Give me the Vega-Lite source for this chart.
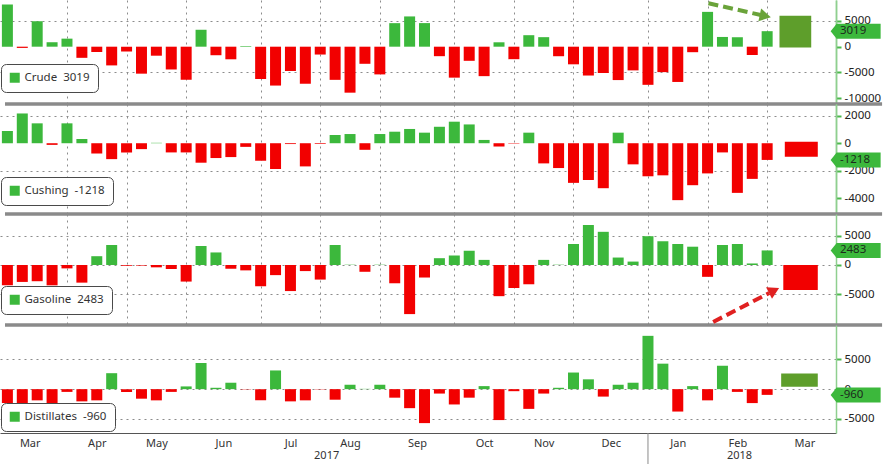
{
  "$schema": "https://vega.github.io/schema/vega-lite/v6.json",
  "background": "white",
  "padding": 0,
  "bounds": "flush",
  "spacing": 0,
  "datasets": {
    "crude": [
      {"d":"2017-03-10","s":"Crude","v":8209},{"d":"2017-03-17","s":"Crude","v":-237},{"d":"2017-03-24","s":"Crude","v":4954},{"d":"2017-03-31","s":"Crude","v":867},
      {"d":"2017-04-07","s":"Crude","v":1566},{"d":"2017-04-14","s":"Crude","v":-2166},{"d":"2017-04-21","s":"Crude","v":-1034},{"d":"2017-04-28","s":"Crude","v":-3641},
      {"d":"2017-05-05","s":"Crude","v":-930},{"d":"2017-05-12","s":"Crude","v":-5247},{"d":"2017-05-19","s":"Crude","v":-1753},{"d":"2017-05-26","s":"Crude","v":-4432},
      {"d":"2017-06-02","s":"Crude","v":-6433},{"d":"2017-06-09","s":"Crude","v":3295},{"d":"2017-06-16","s":"Crude","v":-1661},{"d":"2017-06-23","s":"Crude","v":-2451},
      {"d":"2017-06-30","s":"Crude","v":118},{"d":"2017-07-07","s":"Crude","v":-6299},{"d":"2017-07-14","s":"Crude","v":-7564},{"d":"2017-07-21","s":"Crude","v":-4727},
      {"d":"2017-07-28","s":"Crude","v":-7208},{"d":"2017-08-04","s":"Crude","v":-1527},{"d":"2017-08-11","s":"Crude","v":-6451},{"d":"2017-08-18","s":"Crude","v":-8945},
      {"d":"2017-08-25","s":"Crude","v":-3327},{"d":"2017-09-01","s":"Crude","v":-5392},{"d":"2017-09-08","s":"Crude","v":4580},{"d":"2017-09-15","s":"Crude","v":5888},
      {"d":"2017-09-22","s":"Crude","v":4591},{"d":"2017-09-29","s":"Crude","v":-1846},{"d":"2017-10-06","s":"Crude","v":-6023},{"d":"2017-10-13","s":"Crude","v":-2747},
      {"d":"2017-10-20","s":"Crude","v":-5731},{"d":"2017-10-27","s":"Crude","v":856},{"d":"2017-11-03","s":"Crude","v":-2430},{"d":"2017-11-10","s":"Crude","v":2237},
      {"d":"2017-11-17","s":"Crude","v":1854},{"d":"2017-11-24","s":"Crude","v":-1855},{"d":"2017-12-01","s":"Crude","v":-3429},{"d":"2017-12-08","s":"Crude","v":-5610},
      {"d":"2017-12-15","s":"Crude","v":-5117},{"d":"2017-12-22","s":"Crude","v":-6495},{"d":"2017-12-29","s":"Crude","v":-4609},{"d":"2018-01-05","s":"Crude","v":-7419},
      {"d":"2018-01-12","s":"Crude","v":-4948},{"d":"2018-01-19","s":"Crude","v":-6861},{"d":"2018-01-26","s":"Crude","v":-1071},{"d":"2018-02-02","s":"Crude","v":6776},
      {"d":"2018-02-09","s":"Crude","v":1895},{"d":"2018-02-16","s":"Crude","v":1840},{"d":"2018-02-23","s":"Crude","v":-1616},{"d":"2018-03-02","s":"Crude","v":3019}
    ],
    "cushing": [
      {"d":"2017-03-10","s":"Cushing","v":890},{"d":"2017-03-17","s":"Cushing","v":2170},{"d":"2017-03-24","s":"Cushing","v":1450},{"d":"2017-03-31","s":"Cushing","v":-120},
      {"d":"2017-04-07","s":"Cushing","v":1450},{"d":"2017-04-14","s":"Cushing","v":310},{"d":"2017-04-21","s":"Cushing","v":-750},{"d":"2017-04-28","s":"Cushing","v":-1160},
      {"d":"2017-05-05","s":"Cushing","v":-670},{"d":"2017-05-12","s":"Cushing","v":-430},{"d":"2017-05-19","s":"Cushing","v":30},{"d":"2017-05-26","s":"Cushing","v":-670},
      {"d":"2017-06-02","s":"Cushing","v":-670},{"d":"2017-06-09","s":"Cushing","v":-1420},{"d":"2017-06-16","s":"Cushing","v":-1080},{"d":"2017-06-23","s":"Cushing","v":-1010},
      {"d":"2017-06-30","s":"Cushing","v":-265},{"d":"2017-07-07","s":"Cushing","v":-1280},{"d":"2017-07-14","s":"Cushing","v":-1880},{"d":"2017-07-21","s":"Cushing","v":-60},
      {"d":"2017-07-28","s":"Cushing","v":-1690},{"d":"2017-08-04","s":"Cushing","v":-50},{"d":"2017-08-11","s":"Cushing","v":600},{"d":"2017-08-18","s":"Cushing","v":670},
      {"d":"2017-08-25","s":"Cushing","v":-480},{"d":"2017-09-01","s":"Cushing","v":670},{"d":"2017-09-08","s":"Cushing","v":840},{"d":"2017-09-15","s":"Cushing","v":1040},
      {"d":"2017-09-22","s":"Cushing","v":770},{"d":"2017-09-29","s":"Cushing","v":1200},{"d":"2017-10-06","s":"Cushing","v":1570},{"d":"2017-10-13","s":"Cushing","v":1370},
      {"d":"2017-10-20","s":"Cushing","v":240},{"d":"2017-10-27","s":"Cushing","v":-240},{"d":"2017-11-03","s":"Cushing","v":-30},{"d":"2017-11-10","s":"Cushing","v":770},
      {"d":"2017-11-17","s":"Cushing","v":-1470},{"d":"2017-11-24","s":"Cushing","v":-1810},{"d":"2017-12-01","s":"Cushing","v":-2890},{"d":"2017-12-08","s":"Cushing","v":-2680},
      {"d":"2017-12-15","s":"Cushing","v":-3280},{"d":"2017-12-22","s":"Cushing","v":770},{"d":"2017-12-29","s":"Cushing","v":-1540},{"d":"2018-01-05","s":"Cushing","v":-2410},
      {"d":"2018-01-12","s":"Cushing","v":-2340},{"d":"2018-01-19","s":"Cushing","v":-4150},{"d":"2018-01-26","s":"Cushing","v":-3060},{"d":"2018-02-02","s":"Cushing","v":-2200},
      {"d":"2018-02-09","s":"Cushing","v":-670},{"d":"2018-02-16","s":"Cushing","v":-3620},{"d":"2018-02-23","s":"Cushing","v":-2600},{"d":"2018-03-02","s":"Cushing","v":-1218}
    ],
    "gasoline": [
      {"d":"2017-03-10","s":"Gasoline","v":-3470},{"d":"2017-03-17","s":"Gasoline","v":-2890},{"d":"2017-03-24","s":"Gasoline","v":-2770},{"d":"2017-03-31","s":"Gasoline","v":-3470},
      {"d":"2017-04-07","s":"Gasoline","v":-580},{"d":"2017-04-14","s":"Gasoline","v":-3010},{"d":"2017-04-21","s":"Gasoline","v":1500},{"d":"2017-04-28","s":"Gasoline","v":3410},
      {"d":"2017-05-05","s":"Gasoline","v":-150},{"d":"2017-05-12","s":"Gasoline","v":-100},{"d":"2017-05-19","s":"Gasoline","v":-400},{"d":"2017-05-26","s":"Gasoline","v":-690},
      {"d":"2017-06-02","s":"Gasoline","v":-2830},{"d":"2017-06-09","s":"Gasoline","v":3240},{"d":"2017-06-16","s":"Gasoline","v":2140},{"d":"2017-06-23","s":"Gasoline","v":-640},
      {"d":"2017-06-30","s":"Gasoline","v":-920},{"d":"2017-07-07","s":"Gasoline","v":-3640},{"d":"2017-07-14","s":"Gasoline","v":-1730},{"d":"2017-07-21","s":"Gasoline","v":-4450},
      {"d":"2017-07-28","s":"Gasoline","v":-1040},{"d":"2017-08-04","s":"Gasoline","v":-2490},{"d":"2017-08-11","s":"Gasoline","v":3410},{"d":"2017-08-18","s":"Gasoline","v":50},
      {"d":"2017-08-25","s":"Gasoline","v":-1160},{"d":"2017-09-01","s":"Gasoline","v":50},{"d":"2017-09-08","s":"Gasoline","v":-3120},{"d":"2017-09-15","s":"Gasoline","v":-8380},
      {"d":"2017-09-22","s":"Gasoline","v":-2140},{"d":"2017-09-29","s":"Gasoline","v":1160},{"d":"2017-10-06","s":"Gasoline","v":1620},{"d":"2017-10-13","s":"Gasoline","v":2430},
      {"d":"2017-10-20","s":"Gasoline","v":870},{"d":"2017-10-27","s":"Gasoline","v":-5320},{"d":"2017-11-03","s":"Gasoline","v":-3930},{"d":"2017-11-10","s":"Gasoline","v":-3290},
      {"d":"2017-11-17","s":"Gasoline","v":870},{"d":"2017-11-24","s":"Gasoline","v":50},{"d":"2017-12-01","s":"Gasoline","v":3580},{"d":"2017-12-08","s":"Gasoline","v":6820},
      {"d":"2017-12-15","s":"Gasoline","v":5660},{"d":"2017-12-22","s":"Gasoline","v":1270},{"d":"2017-12-29","s":"Gasoline","v":580},{"d":"2018-01-05","s":"Gasoline","v":4910},
      {"d":"2018-01-12","s":"Gasoline","v":4050},{"d":"2018-01-19","s":"Gasoline","v":3580},{"d":"2018-01-26","s":"Gasoline","v":3120},{"d":"2018-02-02","s":"Gasoline","v":-2020},
      {"d":"2018-02-09","s":"Gasoline","v":3410},{"d":"2018-02-16","s":"Gasoline","v":3580},{"d":"2018-02-23","s":"Gasoline","v":260},{"d":"2018-03-02","s":"Gasoline","v":2483}
    ],
    "distillates": [
      {"d":"2017-03-10","s":"Distillates","v":-2340},{"d":"2017-03-17","s":"Distillates","v":-2340},{"d":"2017-03-24","s":"Distillates","v":-1880},{"d":"2017-03-31","s":"Distillates","v":-2450},
      {"d":"2017-04-07","s":"Distillates","v":-460},{"d":"2017-04-14","s":"Distillates","v":-2050},{"d":"2017-04-21","s":"Distillates","v":-1880},{"d":"2017-04-28","s":"Distillates","v":2680},
      {"d":"2017-05-05","s":"Distillates","v":-460},{"d":"2017-05-12","s":"Distillates","v":-1600},{"d":"2017-05-19","s":"Distillates","v":-1880},{"d":"2017-05-26","s":"Distillates","v":-460},
      {"d":"2017-06-02","s":"Distillates","v":460},{"d":"2017-06-09","s":"Distillates","v":4390},{"d":"2017-06-16","s":"Distillates","v":230},{"d":"2017-06-23","s":"Distillates","v":1080},
      {"d":"2017-06-30","s":"Distillates","v":-50},{"d":"2017-07-07","s":"Distillates","v":-1880},{"d":"2017-07-14","s":"Distillates","v":3140},{"d":"2017-07-21","s":"Distillates","v":-2050},
      {"d":"2017-07-28","s":"Distillates","v":-1880},{"d":"2017-08-04","s":"Distillates","v":-50},{"d":"2017-08-11","s":"Distillates","v":-1770},{"d":"2017-08-18","s":"Distillates","v":740},
      {"d":"2017-08-25","s":"Distillates","v":50},{"d":"2017-09-01","s":"Distillates","v":740},{"d":"2017-09-08","s":"Distillates","v":-1430},{"d":"2017-09-15","s":"Distillates","v":-3190},
      {"d":"2017-09-22","s":"Distillates","v":-5700},{"d":"2017-09-29","s":"Distillates","v":-740},{"d":"2017-10-06","s":"Distillates","v":-2570},{"d":"2017-10-13","s":"Distillates","v":-1430},
      {"d":"2017-10-20","s":"Distillates","v":510},{"d":"2017-10-27","s":"Distillates","v":-5190},{"d":"2017-11-03","s":"Distillates","v":-340},{"d":"2017-11-10","s":"Distillates","v":-3310},
      {"d":"2017-11-17","s":"Distillates","v":-740},{"d":"2017-11-24","s":"Distillates","v":230},{"d":"2017-12-01","s":"Distillates","v":2790},{"d":"2017-12-08","s":"Distillates","v":1650},
      {"d":"2017-12-15","s":"Distillates","v":-1250},{"d":"2017-12-22","s":"Distillates","v":740},{"d":"2017-12-29","s":"Distillates","v":1080},{"d":"2018-01-05","s":"Distillates","v":8950},
      {"d":"2018-01-12","s":"Distillates","v":4280},{"d":"2018-01-19","s":"Distillates","v":-3760},{"d":"2018-01-26","s":"Distillates","v":510},{"d":"2018-02-02","s":"Distillates","v":-1880},
      {"d":"2018-02-09","s":"Distillates","v":3930},{"d":"2018-02-16","s":"Distillates","v":-460},{"d":"2018-02-23","s":"Distillates","v":-2340},{"d":"2018-03-02","s":"Distillates","v":-960}
    ]
  },
  "vconcat": [
    {
      "width": 836, "height": 104,
      "resolve": {"axis": {"y": "independent"}},
      "layer": [
        {
          "data": {"name": "crude"},
          "mark": {"type": "bar", "width": 11, "clip": true},
          "encoding": {
            "x": {"field": "d", "type": "temporal", "title": null,
              "scale": {"type": "utc", "nice": false, "domain": [{"year":2017,"month":3,"date":8,"hours":21,"utc":true},{"year":2018,"month":4,"date":1,"utc":true}]},
              "axis": {"values": [{"year":2017,"month":4,"date":7,"utc":true},{"year":2017,"month":5,"date":5,"utc":true},{"year":2017,"month":6,"date":2,"utc":true},{"year":2017,"month":7,"date":7,"utc":true},{"year":2017,"month":8,"date":4,"utc":true},{"year":2017,"month":9,"date":1,"utc":true},{"year":2017,"month":10,"date":6,"utc":true},{"year":2017,"month":11,"date":3,"utc":true},{"year":2017,"month":12,"date":1,"utc":true},{"year":2018,"month":1,"date":5,"utc":true},{"year":2018,"month":2,"date":2,"utc":true},{"year":2018,"month":3,"date":2,"utc":true}],
                "labels": false, "ticks": false, "domain": false, "grid": true}},
            "y": {"field": "v", "type": "quantitative", "title": null,
              "scale": {"domain": [-11150, 9085], "nice": false, "zero": false},
              "axis": {"orient": "right", "values": [5000, -5000], "labelExpr": "'' + datum.value"}},
            "y2": {"datum": 0},
            "color": {"condition": {"test": "datum.v < 0", "value": "#f20000"}, "field": "s", "type": "nominal",
              "scale": {"range": ["#3cb83c"]},
              "legend": {"orient": "none", "legendX": 1, "legendY": 64, "title": null, "labelExpr": "'Crude\u00a0\u00a03019'"}}
          }
        },
        {
          "data": {"values": [{}]},
          "mark": {"type": "rect", "color": "#5e9e2b"},
          "encoding": {
            "x": {"datum": {"year":2018,"month":3,"date":7,"hours":19,"utc":true}, "type": "temporal", "title": null},
            "x2": {"datum": {"year":2018,"month":3,"date":22,"hours":17,"utc":true}},
            "y": {"datum": 6000, "type": "quantitative", "title": null,
              "axis": {"orient": "right", "values": [0, -10000], "labelExpr": "'' + datum.value"}},
            "y2": {"datum": -150}
          }
        },
        {
          "data": {"values": [{}]},
          "mark": {"type": "rule", "color": "#8a8a8a", "strokeWidth": 3.5},
          "encoding": {
            "x": {"datum": {"year":2017,"month":3,"date":8,"hours":21,"utc":true}, "type": "temporal", "title": null},
            "x2": {"datum": {"year":2018,"month":4,"date":25,"utc":true}},
            "y": {"datum": -11150, "type": "quantitative", "axis": null}
          }
        },
        {
          "data": {"values": [{}]},
          "mark": {"type": "point", "shape": "M-1,0L-0.76,-0.3L1,-0.3L1,0.3L-0.76,0.3Z", "size": 2500, "filled": true, "opacity": 1, "color": "#3cb83c", "strokeWidth": 0},
          "encoding": {
            "x": {"datum": {"year":2018,"month":4,"date":12,"hours":14,"utc":true}, "type": "temporal", "title": null},
            "y": {"datum": 3019, "type": "quantitative", "axis": null}
          }
        },
        {
          "data": {"values": [{}]},
          "mark": {"type": "text", "align": "left", "baseline": "middle", "font": "Noto Sans", "fontSize": 11.5, "color": "#1c2b1c"},
          "encoding": {
            "x": {"datum": {"year":2018,"month":4,"date":5,"hours":5,"utc":true}, "type": "temporal", "title": null},
            "y": {"datum": 3019, "type": "quantitative", "axis": null},
            "text": {"value": "3019"}
          }
        },
        {
          "data": {"values": [{}]},
          "mark": {"type": "rule", "color": "#6aa33a", "strokeWidth": 4, "strokeDash": [10, 5]},
          "encoding": {
            "x": {"datum": {"year":2018,"month":2,"date":2,"hours":10,"utc":true}, "type": "temporal", "title": null},
            "x2": {"datum": {"year":2018,"month":2,"date":27,"hours":12,"utc":true}},
            "y": {"datum": 8444, "type": "quantitative", "axis": null},
            "y2": {"datum": 6128}
          }
        },
        {
          "data": {"values": [{}]},
          "mark": {"type": "point", "shape": "triangle-right", "angle": 12, "size": 170, "filled": true, "opacity": 1, "color": "#6aa33a"},
          "encoding": {
            "x": {"datum": {"year":2018,"month":3,"date":1,"hours":3,"utc":true}, "type": "temporal", "title": null},
            "y": {"datum": 5973, "type": "quantitative", "axis": null}
          }
        }
      ]
    },
    {
      "width": 836, "height": 110,
      "resolve": {"axis": {"y": "independent"}},
      "layer": [
        {
          "data": {"name": "cushing"},
          "mark": {"type": "bar", "width": 11, "clip": true},
          "encoding": {
            "x": {"field": "d", "type": "temporal", "title": null,
              "scale": {"type": "utc", "nice": false, "domain": [{"year":2017,"month":3,"date":8,"hours":21,"utc":true},{"year":2018,"month":4,"date":1,"utc":true}]},
              "axis": {"values": [{"year":2017,"month":4,"date":7,"utc":true},{"year":2017,"month":5,"date":5,"utc":true},{"year":2017,"month":6,"date":2,"utc":true},{"year":2017,"month":7,"date":7,"utc":true},{"year":2017,"month":8,"date":4,"utc":true},{"year":2017,"month":9,"date":1,"utc":true},{"year":2017,"month":10,"date":6,"utc":true},{"year":2017,"month":11,"date":3,"utc":true},{"year":2017,"month":12,"date":1,"utc":true},{"year":2018,"month":1,"date":5,"utc":true},{"year":2018,"month":2,"date":2,"utc":true},{"year":2018,"month":3,"date":2,"utc":true}],
                "labels": false, "ticks": false, "domain": false, "grid": true}},
            "y": {"field": "v", "type": "quantitative", "title": null,
              "scale": {"domain": [-5160, 2860], "nice": false, "zero": false},
              "axis": {"orient": "right", "values": [2000, -2000], "labelExpr": "'' + datum.value"}},
            "y2": {"datum": 0},
            "color": {"condition": {"test": "datum.v < 0", "value": "#f20000"}, "field": "s", "type": "nominal",
              "scale": {"range": ["#3cb83c"]},
              "legend": {"orient": "none", "legendX": 1, "legendY": 73, "title": null, "labelExpr": "'Cushing\u00a0\u00a0-1218'"}}
          }
        },
        {
          "data": {"values": [{}]},
          "mark": {"type": "rect", "color": "#f20000"},
          "encoding": {
            "x": {"datum": {"year":2018,"month":3,"date":10,"hours":7,"utc":true}, "type": "temporal", "title": null},
            "x2": {"datum": {"year":2018,"month":3,"date":25,"hours":19,"utc":true}},
            "y": {"datum": 100, "type": "quantitative", "title": null,
              "axis": {"orient": "right", "values": [0, -4000], "labelExpr": "'' + datum.value"}},
            "y2": {"datum": -980}
          }
        },
        {
          "data": {"values": [{}]},
          "mark": {"type": "rule", "color": "#8a8a8a", "strokeWidth": 3.5},
          "encoding": {
            "x": {"datum": {"year":2017,"month":3,"date":8,"hours":21,"utc":true}, "type": "temporal", "title": null},
            "x2": {"datum": {"year":2018,"month":4,"date":25,"utc":true}},
            "y": {"datum": -5160, "type": "quantitative", "axis": null}
          }
        },
        {
          "data": {"values": [{}]},
          "mark": {"type": "point", "shape": "M-1,0L-0.76,-0.3L1,-0.3L1,0.3L-0.76,0.3Z", "size": 2500, "filled": true, "opacity": 1, "color": "#3cb83c", "strokeWidth": 0},
          "encoding": {
            "x": {"datum": {"year":2018,"month":4,"date":12,"hours":14,"utc":true}, "type": "temporal", "title": null},
            "y": {"datum": -1218, "type": "quantitative", "axis": null}
          }
        },
        {
          "data": {"values": [{}]},
          "mark": {"type": "text", "align": "left", "baseline": "middle", "font": "Noto Sans", "fontSize": 11.5, "color": "#1c2b1c"},
          "encoding": {
            "x": {"datum": {"year":2018,"month":4,"date":5,"hours":5,"utc":true}, "type": "temporal", "title": null},
            "y": {"datum": -1218, "type": "quantitative", "axis": null},
            "text": {"value": "-1218"}
          }
        }
      ]
    },
    {
      "width": 836, "height": 111,
      "layer": [
        {
          "data": {"name": "gasoline"},
          "mark": {"type": "bar", "width": 11, "clip": true},
          "encoding": {
            "x": {"field": "d", "type": "temporal", "title": null,
              "scale": {"type": "utc", "nice": false, "domain": [{"year":2017,"month":3,"date":8,"hours":21,"utc":true},{"year":2018,"month":4,"date":1,"utc":true}]},
              "axis": {"values": [{"year":2017,"month":4,"date":7,"utc":true},{"year":2017,"month":5,"date":5,"utc":true},{"year":2017,"month":6,"date":2,"utc":true},{"year":2017,"month":7,"date":7,"utc":true},{"year":2017,"month":8,"date":4,"utc":true},{"year":2017,"month":9,"date":1,"utc":true},{"year":2017,"month":10,"date":6,"utc":true},{"year":2017,"month":11,"date":3,"utc":true},{"year":2017,"month":12,"date":1,"utc":true},{"year":2018,"month":1,"date":5,"utc":true},{"year":2018,"month":2,"date":2,"utc":true},{"year":2018,"month":3,"date":2,"utc":true}],
                "labels": false, "ticks": false, "domain": false, "grid": true}},
            "y": {"field": "v", "type": "quantitative", "title": null,
              "scale": {"domain": [-10240, 8700], "nice": false, "zero": false},
              "axis": {"orient": "right", "values": [5000, 0, -5000], "labelExpr": "'' + datum.value"}},
            "y2": {"datum": 0},
            "color": {"condition": {"test": "datum.v < 0", "value": "#f20000"}, "field": "s", "type": "nominal",
              "scale": {"range": ["#3cb83c"]},
              "legend": {"orient": "none", "legendX": 1, "legendY": 72, "title": null, "labelExpr": "'Gasoline\u00a0\u00a02483'"}}
          }
        },
        {
          "data": {"values": [{}]},
          "mark": {"type": "rect", "color": "#f20000"},
          "encoding": {
            "x": {"datum": {"year":2018,"month":3,"date":9,"hours":14,"utc":true}, "type": "temporal", "title": null},
            "x2": {"datum": {"year":2018,"month":3,"date":25,"hours":19,"utc":true}},
            "y": {"datum": 0, "type": "quantitative", "title": null},
            "y2": {"datum": -4270}
          }
        },
        {
          "data": {"values": [{}]},
          "mark": {"type": "rule", "color": "#8a8a8a", "strokeWidth": 3.5},
          "encoding": {
            "x": {"datum": {"year":2017,"month":3,"date":8,"hours":21,"utc":true}, "type": "temporal", "title": null},
            "x2": {"datum": {"year":2018,"month":4,"date":25,"utc":true}},
            "y": {"datum": -10240, "type": "quantitative", "title": null}
          }
        },
        {
          "data": {"values": [{}]},
          "mark": {"type": "point", "shape": "M-1,0L-0.76,-0.3L1,-0.3L1,0.3L-0.76,0.3Z", "size": 2500, "filled": true, "opacity": 1, "color": "#3cb83c", "strokeWidth": 0},
          "encoding": {
            "x": {"datum": {"year":2018,"month":4,"date":12,"hours":14,"utc":true}, "type": "temporal", "title": null},
            "y": {"datum": 2483, "type": "quantitative", "title": null}
          }
        },
        {
          "data": {"values": [{}]},
          "mark": {"type": "text", "align": "left", "baseline": "middle", "font": "Noto Sans", "fontSize": 11.5, "color": "#1c2b1c"},
          "encoding": {
            "x": {"datum": {"year":2018,"month":4,"date":5,"hours":5,"utc":true}, "type": "temporal", "title": null},
            "y": {"datum": 2483, "type": "quantitative", "title": null},
            "text": {"value": "2483"}
          }
        },
        {
          "data": {"values": [{}]},
          "mark": {"type": "rule", "color": "#e02020", "strokeWidth": 4, "strokeDash": [10, 5]},
          "encoding": {
            "x": {"datum": {"year":2018,"month":2,"date":4,"hours":15,"utc":true}, "type": "temporal", "title": null},
            "x2": {"datum": {"year":2018,"month":3,"date":2,"hours":23,"utc":true}},
            "y": {"datum": -9727, "type": "quantitative", "title": null},
            "y2": {"datum": -4778}
          }
        },
        {
          "data": {"values": [{}]},
          "mark": {"type": "point", "shape": "triangle-right", "angle": 333, "size": 170, "filled": true, "opacity": 1, "color": "#e02020"},
          "encoding": {
            "x": {"datum": {"year":2018,"month":3,"date":5,"hours":6,"utc":true}, "type": "temporal", "title": null},
            "y": {"datum": -4352, "type": "quantitative", "title": null}
          }
        }
      ]
    },
    {
      "width": 836, "height": 108,
      "layer": [
        {
          "data": {"name": "distillates"},
          "mark": {"type": "bar", "width": 11, "clip": true},
          "encoding": {
            "x": {"field": "d", "type": "temporal", "title": null,
              "scale": {"type": "utc", "nice": false, "domain": [{"year":2017,"month":3,"date":8,"hours":21,"utc":true},{"year":2018,"month":4,"date":1,"utc":true}]},
              "axis": {"values": [{"year":2017,"month":3,"date":20,"hours":12,"utc":true},{"year":2017,"month":4,"date":7,"utc":true},{"year":2017,"month":4,"date":21,"utc":true},{"year":2017,"month":5,"date":5,"utc":true},{"year":2017,"month":5,"date":19,"utc":true},{"year":2017,"month":6,"date":2,"utc":true},{"year":2017,"month":6,"date":19,"hours":12,"utc":true},{"year":2017,"month":7,"date":7,"utc":true},{"year":2017,"month":7,"date":21,"utc":true},{"year":2017,"month":8,"date":4,"utc":true},{"year":2017,"month":8,"date":18,"utc":true},{"year":2017,"month":9,"date":1,"utc":true},{"year":2017,"month":9,"date":18,"hours":12,"utc":true},{"year":2017,"month":10,"date":6,"utc":true},{"year":2017,"month":10,"date":20,"utc":true},{"year":2017,"month":11,"date":3,"utc":true},{"year":2017,"month":11,"date":17,"utc":true},{"year":2017,"month":12,"date":1,"utc":true},{"year":2017,"month":12,"date":18,"hours":12,"utc":true},{"year":2018,"month":1,"date":5,"utc":true},{"year":2018,"month":1,"date":19,"utc":true},{"year":2018,"month":2,"date":2,"utc":true},{"year":2018,"month":2,"date":16,"utc":true},{"year":2018,"month":3,"date":2,"utc":true},{"year":2018,"month":3,"date":19,"hours":12,"utc":true}],
                "labelExpr": "utcdate(datum.value) <= 7 ? '' : utcFormat(datum.value, '%b')",
                "labelOverlap": false, "labelFlush": false, "labelPadding": 0,
                "labelColor": "#333", "labelFont": "Noto Sans", "labelFontSize": 11,
                "grid": true,
                "gridOpacity": {"condition": {"test": "utcdate(datum.value) <= 7", "value": 1}, "value": 0},
                "ticks": true, "tickSize": 4, "tickColor": "#555",
                "tickOpacity": {"condition": {"test": "utcdate(datum.value) <= 7", "value": 1}, "value": 0},
                "domain": true, "domainColor": "#555"}},
            "y": {"field": "v", "type": "quantitative", "title": null,
              "scale": {"domain": [-7360, 10770], "nice": false, "zero": false},
              "axis": {"orient": "right", "values": [5000, 0, -5000], "labelExpr": "'' + datum.value"}},
            "y2": {"datum": 0},
            "color": {"condition": {"test": "datum.v < 0", "value": "#f20000"}, "field": "s", "type": "nominal",
              "scale": {"range": ["#3cb83c"]},
              "legend": {"orient": "none", "legendX": 1, "legendY": 78, "title": null, "labelExpr": "'Distillates\u00a0\u00a0-960'"}}
          }
        },
        {
          "data": {"values": [{}]},
          "mark": {"type": "rect", "color": "#5e9e2b"},
          "encoding": {
            "x": {"datum": {"year":2018,"month":3,"date":8,"hours":14,"utc":true}, "type": "temporal", "title": null},
            "x2": {"datum": {"year":2018,"month":3,"date":25,"hours":19,"utc":true}},
            "y": {"datum": 2630, "type": "quantitative", "title": null},
            "y2": {"datum": 400}
          }
        },
        {
          "data": {"values": [{}]},
          "mark": {"type": "rule", "color": "#8a8a8a", "strokeWidth": 1},
          "encoding": {
            "x": {"datum": {"year":2018,"month":1,"date":5,"utc":true}, "type": "temporal", "title": null},
            "y": {"datum": -7360, "type": "quantitative", "title": null},
            "y2": {"datum": -12600}
          }
        },
        {
          "data": {"values": [{"t": "2017", "d": "2017-08-07"}, {"t": "2018", "d": "2018-02-17"}]},
          "mark": {"type": "text", "align": "center", "baseline": "middle", "font": "Noto Sans", "fontSize": 11, "color": "#333"},
          "encoding": {
            "x": {"field": "d", "type": "temporal", "title": null},
            "y": {"datum": -11300, "type": "quantitative", "title": null},
            "text": {"field": "t"}
          }
        },
        {
          "data": {"values": [{}]},
          "mark": {"type": "point", "shape": "M-1,0L-0.76,-0.3L1,-0.3L1,0.3L-0.76,0.3Z", "size": 2500, "filled": true, "opacity": 1, "color": "#3cb83c", "strokeWidth": 0},
          "encoding": {
            "x": {"datum": {"year":2018,"month":4,"date":12,"hours":14,"utc":true}, "type": "temporal", "title": null},
            "y": {"datum": -960, "type": "quantitative", "title": null}
          }
        },
        {
          "data": {"values": [{}]},
          "mark": {"type": "text", "align": "left", "baseline": "middle", "font": "Noto Sans", "fontSize": 11.5, "color": "#1c2b1c"},
          "encoding": {
            "x": {"datum": {"year":2018,"month":4,"date":5,"hours":5,"utc":true}, "type": "temporal", "title": null},
            "y": {"datum": -960, "type": "quantitative", "title": null},
            "text": {"value": "-960"}
          }
        }
      ]
    }
  ],
  "resolve": {"scale": {"color": "independent"}, "legend": {"color": "independent"}},
  "config": {
    "view": {"stroke": null},
    "axis": {"labelFont": "Noto Sans", "labelFontSize": 11.5, "zindex": 0},
    "axisX": {"gridColor": "#8c8c8c", "gridDash": [2, 4], "gridWidth": 1},
    "axisY": {"gridColor": "#8c8c8c", "gridDash": [2, 4], "gridWidth": 1, "grid": true,
      "domainColor": "#8fcf8f", "domainWidth": 1.5, "tickColor": "#4cb84c", "tickSize": 5, "tickWidth": 2,
      "labelColor": "#222", "labelPadding": 3, "labelOverlap": false, "labelFlush": false},
    "legend": {"symbolType": "square", "symbolSize": 100, "symbolStrokeWidth": 0, "strokeColor": "#4a4a4a", "cornerRadius": 5,
      "fillColor": "white", "padding": 8, "labelFont": "Noto Sans", "labelFontSize": 11.5, "labelColor": "#333",
      "labelOffset": 4, "labelLimit": 300, "zindex": 2}
  }
}
